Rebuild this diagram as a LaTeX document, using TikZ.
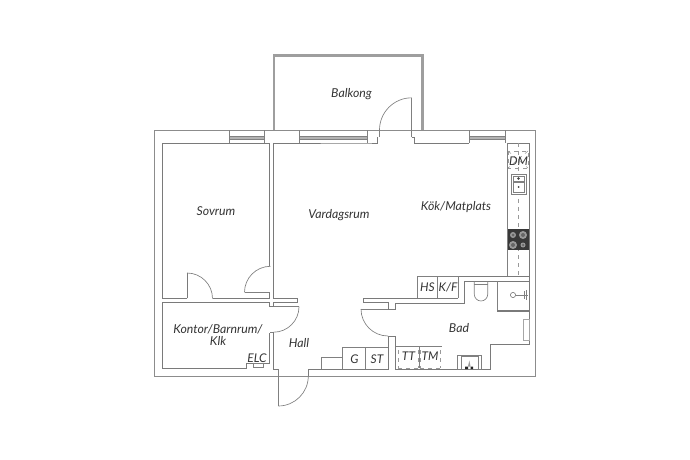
\documentclass[tikz,border=0pt]{standalone}
\usepackage{fontspec}
\setmainfont{Lato}
\tikzset{
 wall/.style={draw=black!52,line width=0.7pt},
 outer/.style={draw=black!45,line width=0.7pt},
 balc/.style={draw=black!38,line width=1.9pt},
 fix/.style={draw=black!50,line width=0.5pt},
 dsh/.style={draw=black!40,line width=0.4pt,dash pattern=on 3pt off 3pt},
 swing/.style={draw=black!50,line width=0.5pt},
 lbl/.style={font=\itshape\fontsize{9.2}{11}\selectfont,text=black!80,inner sep=0pt,align=center},
 small/.style={font=\itshape\fontsize{9}{10}\selectfont,text=black!80,inner sep=0pt}
}
\begin{document}
\begin{tikzpicture}[x=0.75pt,y=-0.75pt]
\useasboundingbox (0,0) rectangle (690,460);
% balcony
\draw[balc] (274,130) -- (274,55.5) -- (422.5,55.5) -- (422.5,130);
% outer wall
\draw[outer] (154.5,130.5) rectangle (535,376);
% windows
\foreach \a/\b in {229/264,299/367,469/505}{
 \fill[black!30] (\a,136.5) rectangle (\b,139.5);
 \draw[fix] (\a,130.5) -- (\a,143) (\b,130.5) -- (\b,143) (\a,136.5) -- (\b,136.5) (\a,139.5) -- (\b,139.5);
}
% Sovrum
\draw[wall] (187,298.3) -- (162,298.3) -- (162,143) -- (269.5,143) -- (269.5,266);
\draw[wall] (212.5,298.3) -- (269.5,298.3) -- (269.5,292.3);
\draw[wall] (187,298.3) -- (187,273);
\draw[swing] (187,273) arc[start angle=-90,end angle=0,radius=25.5];
% door Sovrum to Vardagsrum
\draw[swing] (269.5,292.3) -- (244.5,292.3);
\draw[swing] (244.5,292.3) arc[start angle=180,end angle=270,radius=26];
% living room
\draw[wall] (273.5,143) -- (367,143) -- (377.5,143) -- (377.5,137);
\draw[wall] (273.5,143) -- (273.5,298.3) -- (297.5,298.3) -- (297.5,302.3) -- (273.5,302.3) -- (273.5,306.7);
\draw[wall] (269.5,302.3) -- (162,302.3) -- (162,368.3) -- (246.7,368.3) -- (246.7,363.5) -- (269.5,363.5) -- (269.5,333);
\draw[wall] (269.5,302.3) -- (269.5,306.7) -- (273.5,306.7);
% Kontor door
\draw[swing] (273.5,306.7) -- (299,306.7);
\draw[swing] (299,306.7) arc[start angle=0,end angle=90,radius=25.5];
\draw[swing] (273.5,332.2) -- (269.5,332.2);
\draw[wall] (273,332) -- (273,369) -- (278.3,369);
\draw[fix] (253,363.5) rectangle (263,367);
% entry door
\draw[swing] (278.3,369) -- (278.3,406);
\draw[swing] (278.3,406) arc[start angle=90,end angle=0,radius=30];
\draw[wall] (308.3,376) -- (308.3,369) -- (388,369) -- (388,336);
% bath door
\draw[swing] (388,336) arc[start angle=90,end angle=180,radius=27];
\draw[fix] (361,309) -- (388,309);
% storage
\draw[fix] (321,369) -- (321,357.7) -- (342.7,357.7);
\draw[fix] (342.7,369) -- (342.7,347.3) -- (388,347.3) (365.7,347.3) -- (365.7,369);
% bath
\draw[wall] (363,298.3) -- (458,298.3) (363,298.3) -- (363,302.6) -- (388,302.6) -- (388,309) -- (395.5,309) -- (395.5,303) -- (464,303) -- (464,281) -- (529,281);
\draw[wall] (388,336) -- (395,336) -- (395,369) -- (490,369) -- (490,344) -- (529,344) -- (529,281);
% Kitchen
\draw[wall] (529,281) -- (529,276) (458,276) -- (529,276) -- (529,143) -- (507,143);
\draw[wall] (411.7,137) -- (414.5,137) -- (414.5,143) -- (469,143);
\draw[swing] (379.5,137) -- (379.5,130) arc[start angle=180,end angle=270,radius=32.2];
\draw[swing] (411.7,97.8) -- (411.7,137);
\draw[fix] (507,143) -- (507,276);
\draw[fix] (417,298.3) -- (417,276) -- (458,276) -- (458,298.3);
\draw[fix] (437.5,276) -- (437.5,298.3);
\draw[dsh] (518,143) -- (518,276);
% DM
\draw[dsh] (508,151) rectangle (528,168);
\draw[dsh] (508,151) -- (528,168) (528,151) -- (508,168);
% sink
\draw[fix,fill=white] (511,174) rectangle (526,194);
\draw[fix] (513,182) rectangle (524,192);
\draw[fix] (513,176) rectangle (524,181);
\fill[black!75] (518.5,187) circle (1);
\fill[black!75] (518.5,178.5) circle (1.4);
% stove
\fill[black!78] (508,228.5) rectangle (529,249.5);
\foreach \x/\y/\r in {513/235/3,523/235/4,513/245/4,523/245/2.5}{\fill[black!40] (\x,\y) circle (\r);\fill[black!60] (\x,\y) circle (\r*0.5);}
% toilet
\draw[fix] (474.3,281) -- (474.3,294.3) arc[start angle=180,end angle=0,radius=6.7] -- (487.7,281);
\draw[fix] (474.3,284) -- (487.7,284);
% shower
\draw[fix] (497.3,281) -- (497.3,311);
\draw[wall,line width=0.9pt] (497.3,311) -- (529,311);
\draw[fix] (513,295) circle (2.6);
\draw[fix] (515.6,295) -- (528,295) (526,290) -- (526,300) (524,291) -- (524,299);
% radiator
\draw[fix,draw=black!35] (523.3,319.3) rectangle (529,340.7);
% TT TM
\draw[fix] (395.5,346) -- (441.5,346) (419,346) -- (419,368);
\draw[dsh] (398.3,350) -- (398.3,368) (418,350) -- (418,368) (420,350) -- (420,368) (440.7,350) -- (440.7,368);
\draw[dsh] (398.3,368) -- (418,368) (420,368) -- (440.7,368);
% wash
\draw[fix] (457.3,355) rectangle (481.7,369);
\draw[fix] (461,356.5) rectangle (478,369);
\fill[black!85] (465,366.5) rectangle (468,369) (470.5,366.5) rectangle (473,369);
\fill[black!40] (468,366.5) -- (469.3,360.5) -- (470.6,366.5) -- cycle;
% labels
\node[lbl] (balkong) at (351.5,94) {Balkong};
\node[lbl] (sovrum) at (216,211.5) {Sovrum};
\node[lbl] (vardag) at (339,215) {Vardagsrum};
\node[lbl] (kok) at (456,207.5) {Kök/Matplats};
\node[lbl] (kontor) at (218,335) {Kontor/Barnrum/\\[-2pt]Klk};
\node[lbl] (hall) at (299,343) {Hall};
\node[lbl] (bad) at (459,328) {Bad};
\node[small] (dm) at (518.5,161) {DM};
\node[small] (hs) at (427.5,287.5) {HS};
\node[small] (kf) at (448,287.5) {K/F};
\node[small] (g) at (354.5,359) {G};
\node[small] (st) at (377,359) {ST};
\node[small] (tt) at (408.5,356.5) {TT};
\node[small] (tm) at (430,356.5) {TM};
\node[small] (elc) at (257,358) {ELC};
\end{tikzpicture}
\end{document}
